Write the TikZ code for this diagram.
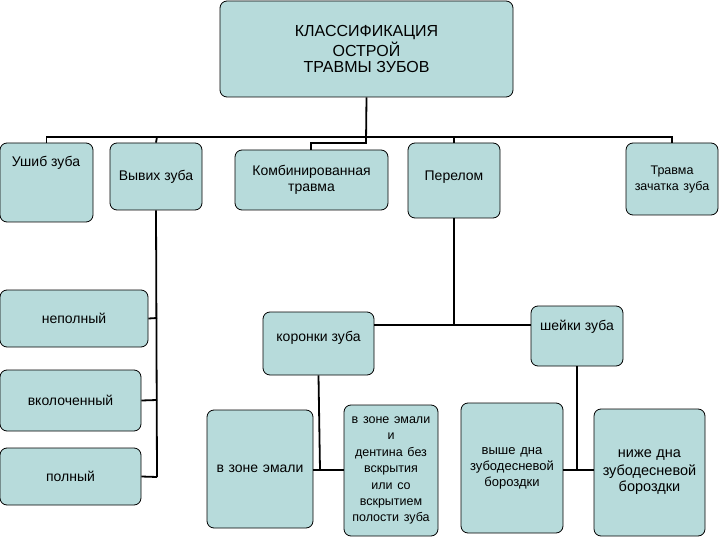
\documentclass[tikz,border=0pt]{standalone}
\usepackage{fontspec}
\setmainfont{Liberation Sans}
\begin{document}
\begin{tikzpicture}[x=1pt,y=-1pt,
 bx/.style={draw=black,fill={rgb,255:red,183;green,219;blue,219},rounded corners=7pt,line width=0.8pt,align=center,inner sep=0pt,font=\fontsize{14}{16}\selectfont},
 ln/.style={line width=1.8pt}]
\useasboundingbox (0,0) rectangle (720,540);
\newcommand\bxx[6]{\node[bx,minimum width=#4-#2,minimum height=#5-#3,text width=#4-#2] (#1) at ({(#2+#4)/2},{(#3+#5)/2}) {#6};}
\bxx{title}{220}{1}{513}{97}{\fontsize{16}{20}\selectfont КЛАССИФИКАЦИЯ\\ОСТРОЙ\\ТРАВМЫ ЗУБОВ}
\node[bx,minimum width=93,minimum height=79] (u) at (46.5,182.5) {};
\node[anchor=north,font=\fontsize{14}{16}\selectfont] at (46,153) {Ушиб зуба};
\node[bx,minimum width=92,minimum height=67] (v) at (156,176.5) {};
\node[font=\fontsize{14}{16}\selectfont] at (156,177) {Вывих зуба};
\bxx{k}{235}{150}{388}{210}{Комбинированная\\травма}
\node[bx,minimum width=92,minimum height=75] (p) at (454,180.5) {};
\node[font=\fontsize{14}{16}\selectfont] at (454,177) {Перелом};
\bxx{t}{626}{143}{718}{215}{\fontsize{12.5}{15}\selectfont Травма\\зачатка зуба}
\bxx{n}{0}{290}{148}{347}{неполный}
\bxx{vk}{0}{370}{141}{431}{вколоченный}
\bxx{pl}{0}{448}{141}{505}{полный}
\node[bx,minimum width=111,minimum height=63] (kz) at (318.5,343.5) {};
\node[font=\fontsize{14}{16}\selectfont] at (318.5,338) {коронки зуба};
\node[bx,minimum width=92,minimum height=60] (sz) at (577,336) {};
\node[font=\fontsize{14}{16}\selectfont] at (577,327) {шейки зуба};
\bxx{e1}{207}{410}{313}{528}{в зоне эмали}
\bxx{e2}{344}{405}{438}{536}{\fontsize{12.5}{16.5}\selectfont в зоне эмали\\и\\дентина без\\вскрытия\\или со\\вскрытием\\полости зуба}
\bxx{h1}{461}{403}{563}{533}{\fontsize{13}{16}\selectfont выше дна\\зубодесневой\\бороздки}
\bxx{h2}{594}{409}{705}{536}{\fontsize{14.5}{18}\selectfont ниже дна\\зубодесневой\\бороздки}
\draw[ln] (title.south) -- (366,143) -| (311,150);
\draw[ln] (u.north) |- (46,137) -- (672,137) -- (t.north);
\draw[ln] (v.north) -- (157,137);
\draw[ln] (p.north) -- (454,137);
\draw[ln] (v.south) -- (157,477);
\draw[ln] (n.east) -- (157,318);
\draw[ln] (vk.east) -- (157,400);
\draw[ln] (pl.east) -- (157,477);
\draw[ln] (p.south) -- (454,325);
\draw[ln] (374,325) -- (sz.west |- 0,325);
\draw[ln] (kz.south) -- (320,470);
\draw[ln] (e1.east |- 0,470) -- (e2.west |- 0,470);
\draw[ln] (sz.south) -- (577,470);
\draw[ln] (h1.east |- 0,470) -- (h2.west |- 0,470);
\end{tikzpicture}
\end{document}
